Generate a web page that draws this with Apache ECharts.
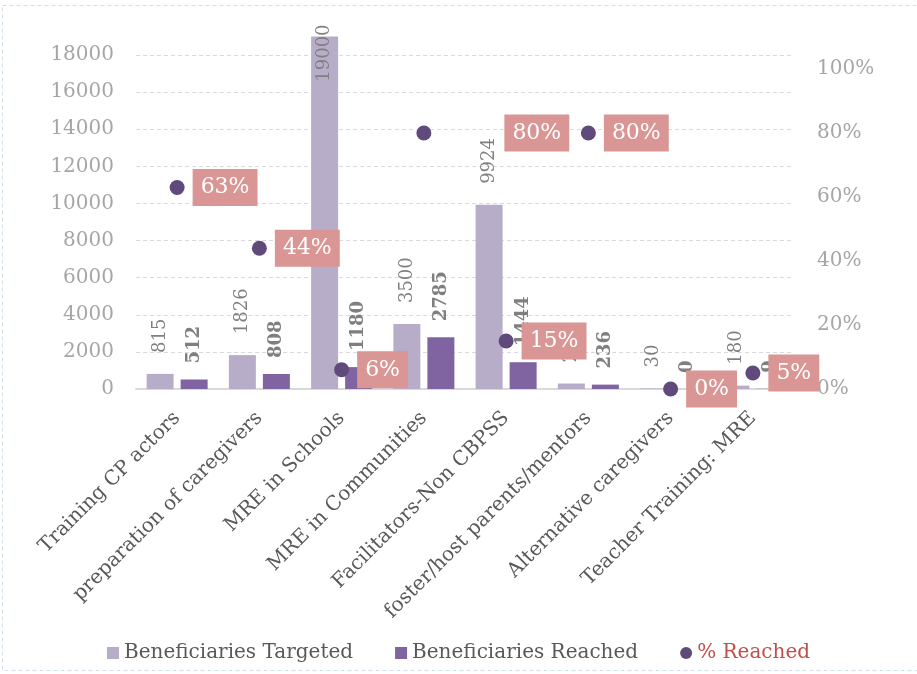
<!DOCTYPE html>
<html>
<head>
<meta charset="utf-8">
<script src="https://cdn.jsdelivr.net/npm/echarts@6/dist/echarts.min.js"></script>
<style>
  html, body { margin: 0; padding: 0; background: #fff; }
  #chart { width: 917px; height: 674px; }
</style>
</head>
<body>
<div id="chart"></div>
<script>
const categories = [
  'Training CP actors',
  'preparation of caregivers',
  'MRE in Schools',
  'MRE in Communities',
  'Facilitators-Non CBPSS',
  'foster/host parents/mentors',
  'Alternative caregivers',
  'Teacher Training: MRE'
]
const targeted = [815, 1826, 19000, 3500, 9924, 295, 30, 180]
const reached = [512, 808, 1180, 2785, 1444, 236, 0, 9]
const pctReached = [0.63, 0.44, 0.06, 0.80, 0.15, 0.80, 0, 0.05]
const leftTicks = [0, 2000, 4000, 6000, 8000, 10000, 12000, 14000, 16000, 18000]

const serif = 'DejaVu Serif'
const myChart = echarts.init(document.getElementById('chart'))

const barLabel = {
  show: true,
  position: 'top',
  rotate: 90,
  align: 'left',
  verticalAlign: 'middle',
  fontFamily: serif,
  fontSize: 18,
  color: '#808080',
}

const targetedData = targeted.map((v) => {
  if (v === 19000) {
    // top bar: label sits over the end of the bar
    return { value: v, label: { position: ['50%', -12], align: 'right' } }
  }
  return v
})

const pctData = pctReached.map((v, i) => {
  if (i === 3) {
    return { value: v, label: { offset: [65, 0] } }
  }
  return v
})

const option = {
  animation: false,
  graphic: [
    {
      type: 'rect',
      shape: { x: 2.5, y: 5.5, width: 920, height: 665 },
      style: { fill: 'none', stroke: '#d3e0e8', lineWidth: 1, lineDash: [4, 3] },
      silent: true,
    },
  ],
  grid: { left: 136, right: 123, top: 55, bottom: 285 },
  legend: {
    left: 'center',
    top: 638,
    itemWidth: 12,
    itemHeight: 12,
    itemGap: 42,
    textStyle: { fontFamily: serif, fontSize: 20, color: '#595959' },
    data: [
      { name: 'Beneficiaries Targeted', icon: 'rect' },
      { name: 'Beneficiaries Reached', icon: 'rect' },
      { name: '% Reached', icon: 'circle', textStyle: { color: '#c0504d' } },
    ],
  },
  xAxis: {
    type: 'category',
    data: categories,
    axisLine: { lineStyle: { color: '#d9d9d9', width: 2 } },
    axisTick: { show: false },
    axisLabel: {
      interval: 0,
      rotate: 45,
      margin: 26,
      fontFamily: serif,
      fontSize: 20,
      color: '#595959',
    },
  },
  yAxis: [
    {
      type: 'value',
      min: 0,
      max: leftTicks[leftTicks.length - 1],
      interval: leftTicks[1] - leftTicks[0],
      axisLine: { show: false },
      axisTick: { show: false },
      axisLabel: {
        margin: 22,
        fontFamily: serif,
        fontSize: 20,
        color: '#a6a6a6',
        formatter: (v) => String(v),
      },
      splitLine: { lineStyle: { color: '#d9d9d9', type: [4, 3] } },
    },
    {
      type: 'value',
      min: 0,
      max: 1.044,
      interval: 0.2,
      axisLine: { show: false },
      axisTick: { show: false },
      splitLine: { show: false },
      axisLabel: {
        margin: 23,
        fontFamily: serif,
        fontSize: 20,
        color: '#a6a6a6',
        formatter: (v) => (v > 1.0001 ? '' : Math.round(v * 100) + '%'),
      },
    },
  ],
  series: [
    {
      name: 'Beneficiaries Targeted',
      type: 'bar',
      clip: false,
      barWidth: 27,
      barGap: '26%',
      itemStyle: { color: '#b8adc9' },
      label: Object.assign({}, barLabel, { distance: 21 }),
      data: targetedData,
    },
    {
      name: 'Beneficiaries Reached',
      type: 'bar',
      clip: false,
      barWidth: 27,
      barGap: '26%',
      itemStyle: { color: '#8064a2' },
      label: Object.assign({}, barLabel, { distance: 16, fontWeight: 'bold', color: '#7f7f7f' }),
      data: reached,
    },
    {
      name: '% Reached',
      type: 'scatter',
      yAxisIndex: 1,
      z: 5,
      symbolSize: 15,
      itemStyle: { color: '#604a7b', opacity: 1 },
      label: {
        show: true,
        position: 'right',
        distance: 8,
        fontFamily: serif,
        fontSize: 22,
        lineHeight: 25,
        color: '#fff',
        backgroundColor: '#d99694',
        padding: [6, 8],
        opacity: 1,
        formatter: (p) => Math.round(p.value * 100) + '%',
      },
      data: pctData,
    },
  ],
}

myChart.setOption(option)
</script>
</body>
</html>
